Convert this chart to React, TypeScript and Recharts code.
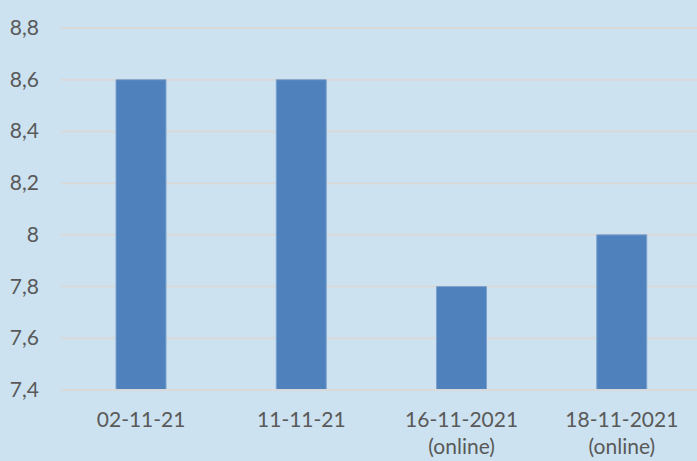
import { BarChart, Bar, XAxis, YAxis, CartesianGrid } from 'recharts';

const CATEGORIES = ['02-11-21', '11-11-21', '16-11-2021\n(online)', '18-11-2021\n(online)'];
const VALUES = [8.6, 8.6, 7.8, 8.0];
const Y_TICKS = [7.4, 7.6, 7.8, 8.0, 8.2, 8.4, 8.6, 8.8];

const FONT = 'Lato, "Open Sans", sans-serif';
const TEXT = '#595959';
const GRID = '#d9d9d9';

const data = CATEGORIES.map((name, i) => ({ name, value: VALUES[i] }));

const fmt = (v: number) => (Math.round(v * 10) / 10).toString().replace('.', ',');

function XTick({ x, y, payload }: any) {
  const lines = String(payload.value).split('\n');
  return (
    <text x={x} y={y} textAnchor="middle" fill={TEXT} fontFamily={FONT} fontSize={21}>
      {lines.map((l, i) => (
        <tspan key={i} x={x} dy={i === 0 ? 29 : 27}>{l}</tspan>
      ))}
    </text>
  );
}

function YTick({ y, payload }: any) {
  return (
    <text x={39} y={y} dy={7} textAnchor="end" fill={TEXT} fontFamily={FONT} fontSize={21}>
      {fmt(payload.value)}
    </text>
  );
}

export default function App() {
  return (
    <div style={{ position: 'absolute', left: 0, top: 0, width: 697, height: 461, overflow: 'hidden', background: '#cce2f0' }}>
      <BarChart width={702} height={461} data={data} margin={{ top: 28, right: 0, left: 0, bottom: 0 }}>
        <CartesianGrid vertical={false} stroke={GRID} strokeWidth={2} />
        <XAxis
          dataKey="name"
          height={71}
          axisLine={{ stroke: GRID, strokeWidth: 2 }}
          tickLine={false}
          tick={<XTick />}
          interval={0}
        />
        <YAxis
          width={61}
          domain={[7.4, 8.8]}
          ticks={Y_TICKS}
          axisLine={false}
          tickLine={false}
          tick={<YTick />}
          allowDataOverflow
        />
        <Bar dataKey="value" fill="#4f81bd" stroke="#7ea2cf" strokeWidth={1} barSize={50} isAnimationActive={false} />
      </BarChart>
    </div>
  );
}
